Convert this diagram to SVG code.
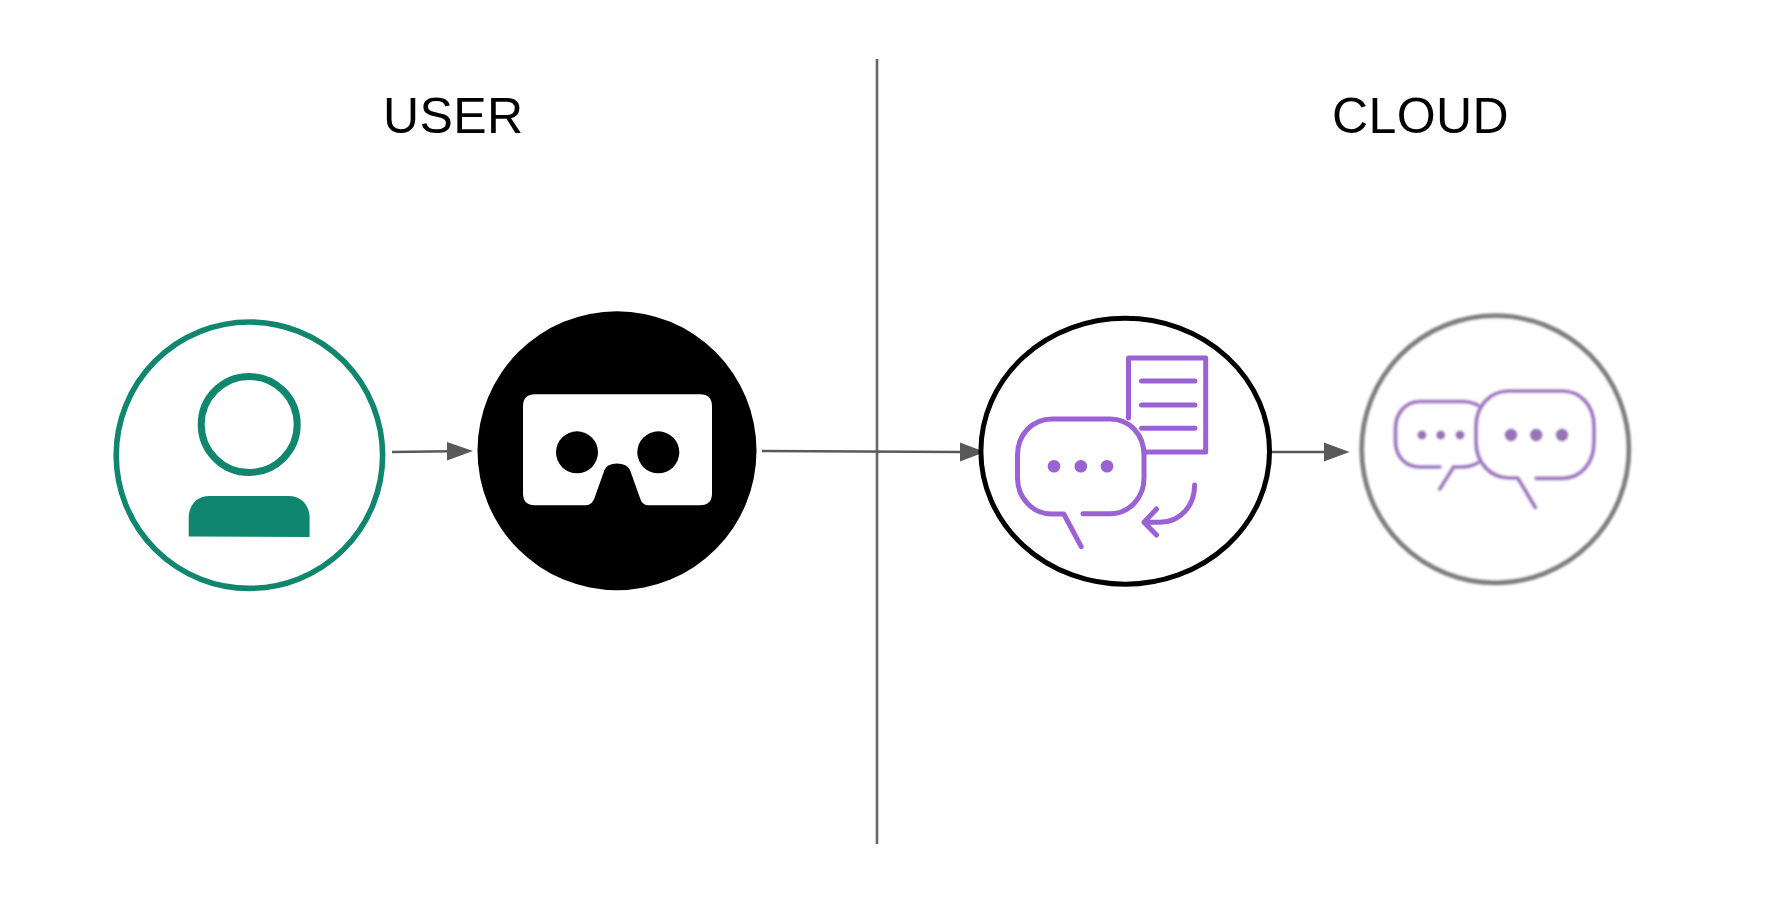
<svg xmlns="http://www.w3.org/2000/svg" width="1786" height="924" viewBox="0 0 1786 924">
<defs>
<style>
text{font-family:"Liberation Sans",Arial,sans-serif;font-size:50px;fill:#000;letter-spacing:.4px}
.conn{stroke:#595959;stroke-width:2.6;fill:none}
.head{fill:#595959;stroke:none}
.pl{fill:none;stroke:#9b62d6;stroke-width:5;stroke-linecap:round;stroke-linejoin:round}
.pf{fill:#9b62d6}
.bl{fill:none;stroke:#a47cc4;stroke-width:4.2;stroke-linecap:round;stroke-linejoin:round}
.bf{fill:#9a72ba}
</style>
<filter id="soft" x="-5%" y="-5%" width="110%" height="110%"><feGaussianBlur stdDeviation="1"/></filter>
</defs>
<rect width="1786" height="924" fill="#fff"/>
<g id="labels">
<text id="label-user" x="383" y="133">USER</text>
<text id="label-cloud" x="1332" y="133">CLOUD</text>
</g>
<g id="connectors">
<line id="divider" x1="877" y1="59" x2="877" y2="844" stroke="#666" stroke-width="2.6"/>
<line class="conn" x1="392" y1="452" x2="450" y2="451.2"/>
<polygon class="head" points="473,451 447,442 447,460.5"/>
<line class="conn" x1="762" y1="451" x2="960" y2="452"/>
<polygon class="head" points="985,452 960,442.5 960,461.5"/>
<line class="conn" x1="1272" y1="452" x2="1326" y2="452"/>
<polygon class="head" points="1349.5,452 1324,442.5 1324,461.5"/>
</g>
<g id="node-user">
<circle cx="249.4" cy="455.2" r="133.2" fill="#fff" stroke="#11866f" stroke-width="5.6"/>
<circle cx="249.2" cy="424.5" r="48" fill="none" stroke="#11866f" stroke-width="7"/>
<path d="M188.7 536.5V518C188.7 505 197 496 209 496H289C301 496 309.6 505 309.6 518V537Z" fill="#11866f"/>
</g>
<g id="node-headset">
<circle cx="617" cy="450.7" r="139.5" fill="#000"/>
<path fill="#fff" d="M535 394.3H700Q712 394.3 712 406.3V493.3Q712 505.3 700 505.3H648Q642 505.3 640 498L630 470Q627 463.5 617 463.5Q607 463.5 604.5 470L594.5 498Q592 505.3 586 505.3H535Q523 505.3 523 493.3V406.3Q523 394.3 535 394.3Z"/>
<circle cx="577" cy="452.3" r="21" fill="#000"/>
<circle cx="658.3" cy="452.3" r="21" fill="#000"/>
</g>
<g id="node-dialog">
<ellipse cx="1125.2" cy="451.3" rx="144.3" ry="133" fill="#fff" stroke="#000" stroke-width="5"/>
<path class="pl" d="M1128.5 418V358H1205.7V452H1146"/>
<path class="pl" d="M1141.5 381H1195M1141.5 405H1195M1141.5 428.3H1195"/>
<path class="pl" d="M1083 513.7H1110C1130 513.7 1144 497 1144 478V455C1144 435 1130 419 1110 419H1052C1032 419 1017.5 435 1017.5 455V478C1017.5 497 1032 514 1052 514H1063.8L1081.2 546.7"/>
<circle class="pf" cx="1054" cy="466.3" r="6.3"/>
<circle class="pf" cx="1080.8" cy="466.3" r="6.3"/>
<circle class="pf" cx="1107" cy="466.3" r="6.3"/>
<path class="pl" d="M1194.6 485C1194.6 506 1180 522.3 1160 522.3H1144M1156.5 509L1144 522.3L1156.5 535"/>
</g>
<g id="node-chat" filter="url(#soft)">
<circle cx="1495.3" cy="449.2" r="133.5" fill="#fff" stroke="#808080" stroke-width="5"/>
<path class="bl" d="M1477.5 405C1472 402.5 1468 401.5 1463 401.5H1420C1405 401.5 1395.5 414 1395.5 428V441C1395.5 456 1405 467 1420 467H1439.8M1477.5 463C1472 466 1466 467 1462 467H1453.6L1439.8 489"/>
<path class="bl" d="M1536.2 478.3H1562C1582 478.3 1594 462 1594 442V426C1594 406 1581 391 1562 391H1509C1490 391 1476 406 1476 426V442C1476 462 1490 478 1509 478H1517.8L1535.3 507.3"/>
<circle class="bf" cx="1421.9" cy="435" r="4.6"/>
<circle class="bf" cx="1440.7" cy="435" r="4.6"/>
<circle class="bf" cx="1460" cy="435" r="4.6"/>
<circle class="bf" cx="1511" cy="435" r="6.4"/>
<circle class="bf" cx="1536.2" cy="435" r="6.4"/>
<circle class="bf" cx="1562" cy="435" r="6.4"/>
</g>
</svg>
